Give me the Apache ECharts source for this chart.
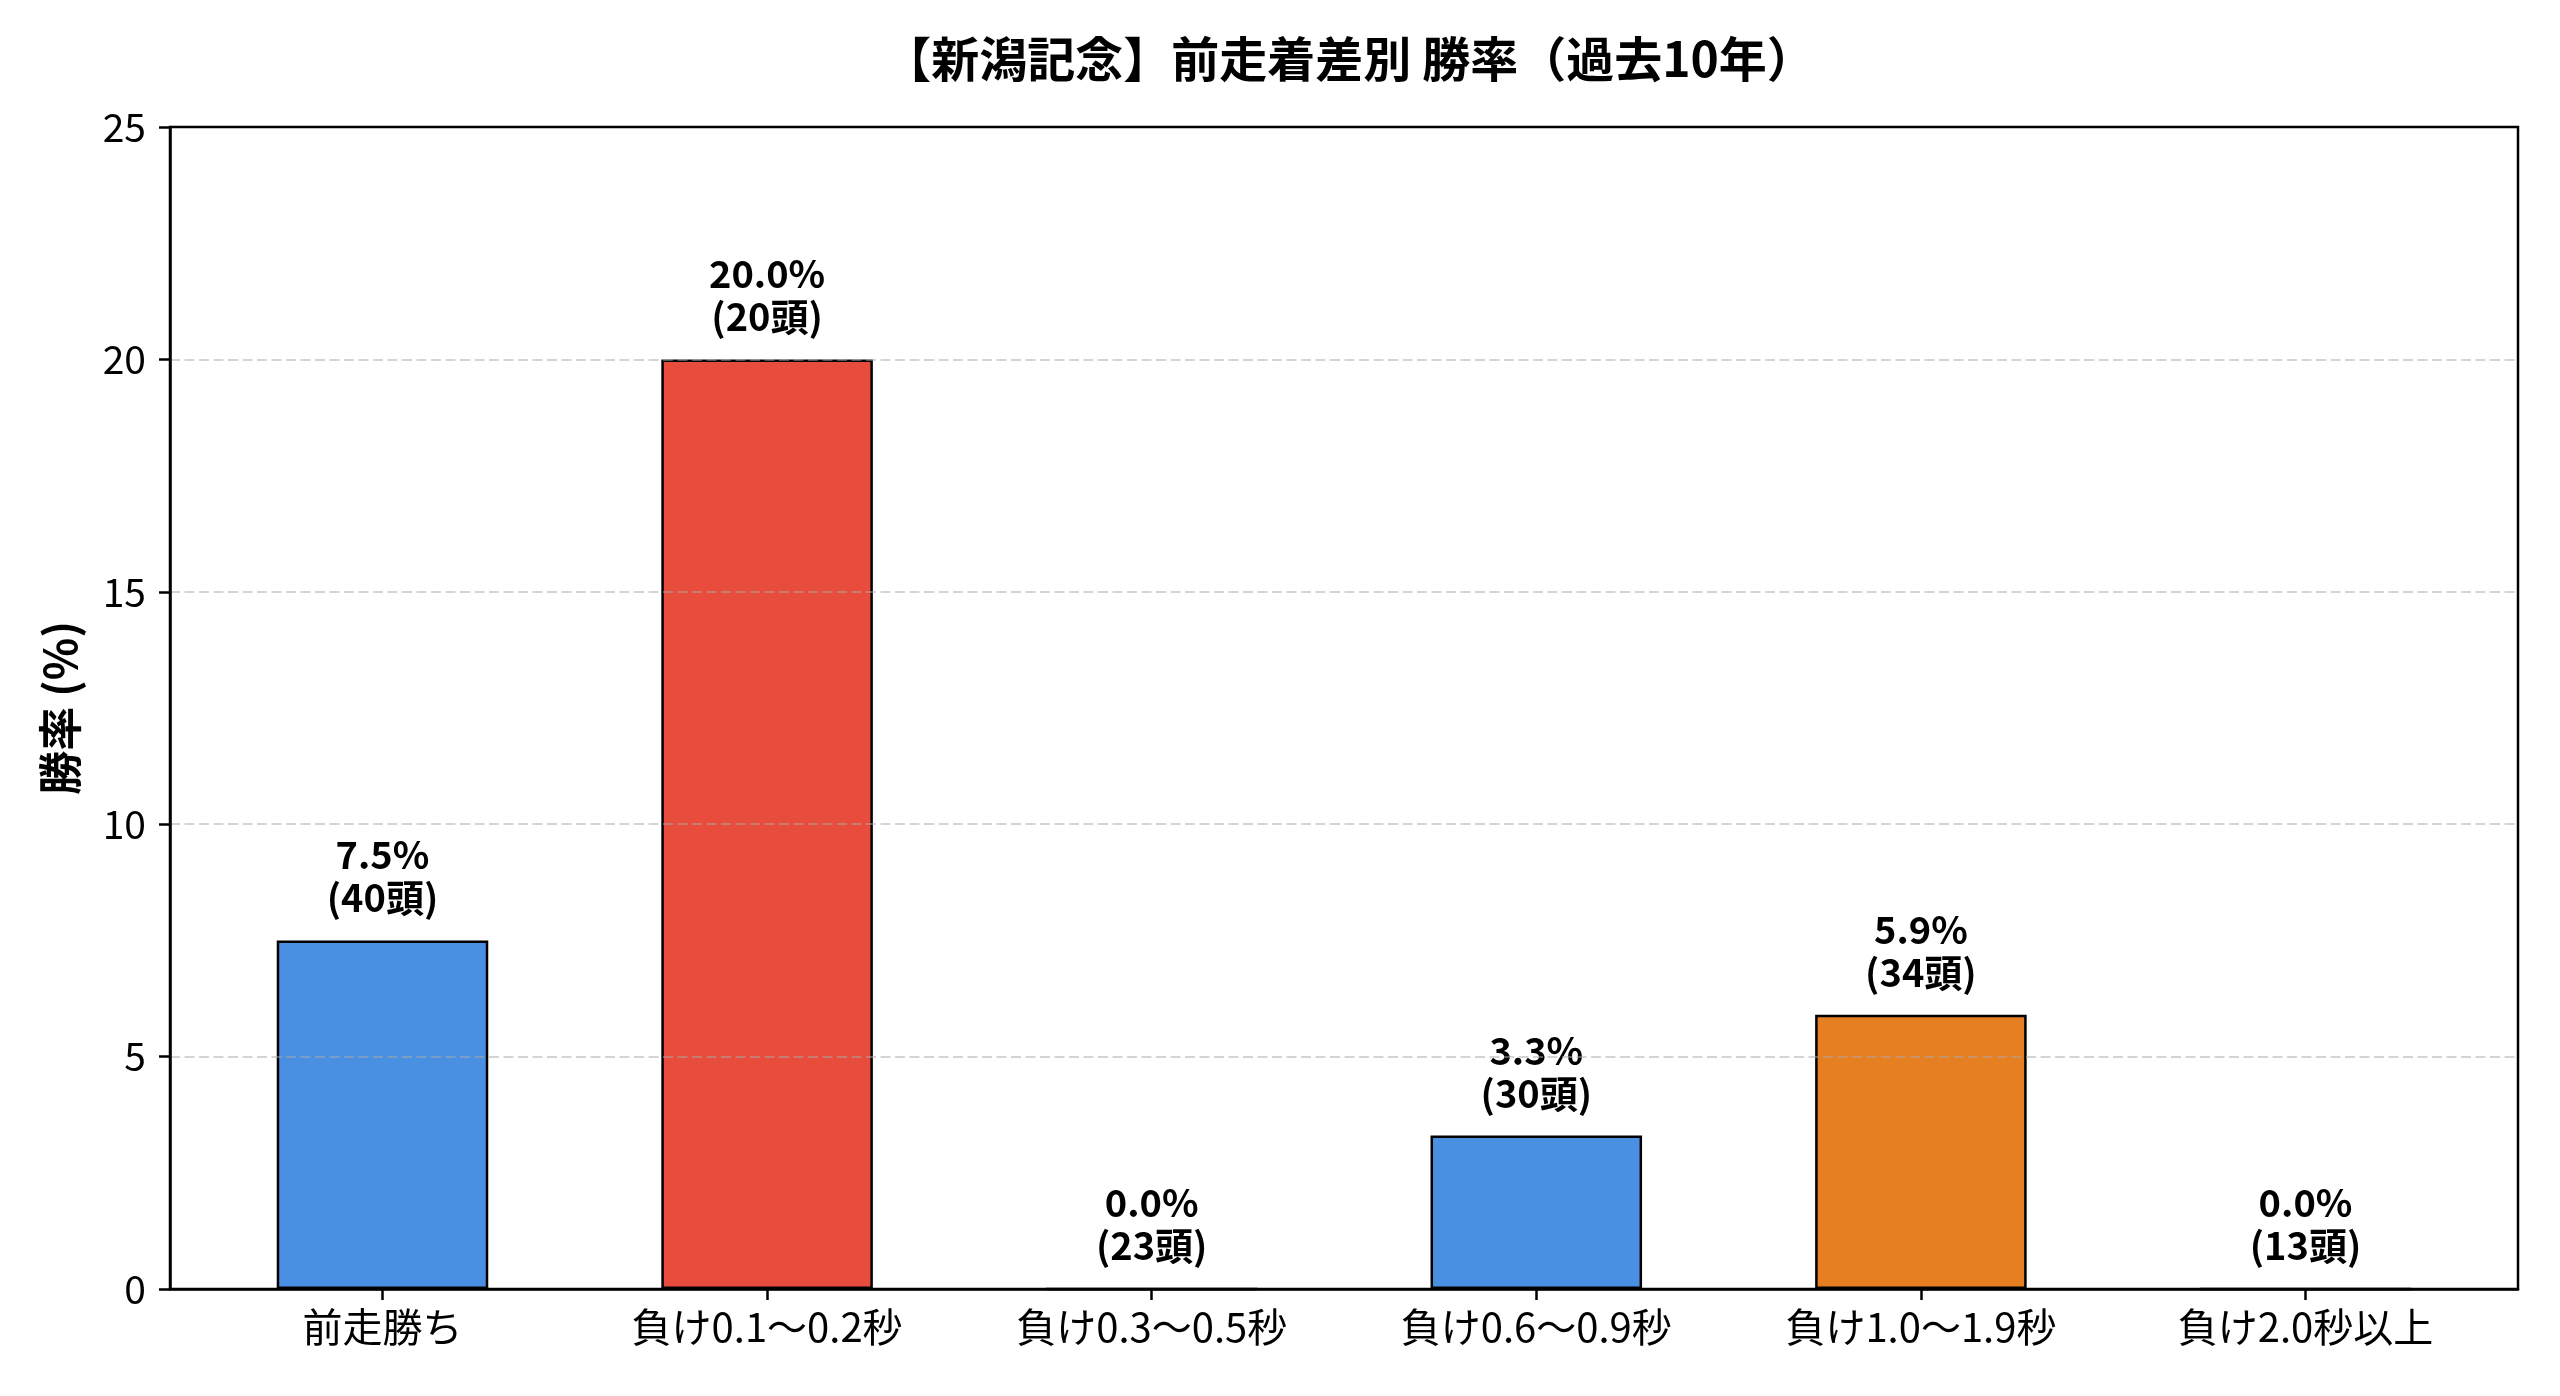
<!DOCTYPE html>
<html>
<head>
<meta charset="utf-8">
<script src="https://cdn.jsdelivr.net/npm/echarts@6/dist/echarts.min.js"></script>
<style>
html,body{margin:0;padding:0;background:#fff;}
#main{width:2560px;height:1396px;}
</style>
</head>
<body>
<div id="main"></div>
<script>
const categories = ['前走勝ち', '負け0.1～0.2秒', '負け0.3～0.5秒', '負け0.6～0.9秒', '負け1.0～1.9秒', '負け2.0秒以上'];
const winRates = [7.5, 20.0, 0.0, 3.3, 5.9, 0.0];
const horseCounts = [40, 20, 23, 30, 34, 13];
const barColors = ['#4A90E2', '#E74C3C', '#4A90E2', '#4A90E2', '#E67E22', '#4A90E2'];
const yTicks = [0, 5, 10, 15, 20, 25];

const FONT = '"Noto Sans CJK JP", "Noto Sans", sans-serif';
const chart = echarts.init(document.getElementById('main'), null, {renderer: 'canvas'});

const gridLeft = 170, gridRight = 42, gridTop = 127, gridBottom = 107;
const xMin = -0.5525, xMax = 5.5525;
const plotW = 2560 - gridLeft - gridRight;
const barW = plotW / (xMax - xMin) * 0.55;

const option = {
  backgroundColor: '#ffffff',
  animation: false,
  title: {
    text: '【新潟記念】前走着差別 勝率（過去10年）',
    left: gridLeft + plotW / 2,
    textAlign: 'center',
    top: 30,
    textStyle: {fontFamily: FONT, fontSize: 48, fontWeight: 'bold', color: '#000'}
  },
  grid: {
    left: gridLeft, right: gridRight, top: gridTop, bottom: gridBottom,
    show: true, borderColor: '#000', borderWidth: 2.5, backgroundColor: 'transparent'
  },
  xAxis: {
    type: 'value',
    min: xMin, max: xMax,
    z: 3,
    axisLine: {show: true, onZero: false, lineStyle: {color: '#000', width: 2.5}},
    axisTick: {show: true, length: 11, lineStyle: {color: '#000', width: 2.5}, customValues: categories.map((c, i) => i)},
    axisLabel: {
      show: true, customValues: categories.map((c, i) => i),
      formatter: v => categories[Math.round(v)],
      fontFamily: FONT, fontSize: 40, color: '#000', margin: 18
    },
    splitLine: {show: false}
  },
  yAxis: {
    type: 'value',
    min: 0, max: 25, interval: 5,
    z: 3,
    name: '勝率 (%)',
    nameLocation: 'middle',
    nameGap: 88,
    nameTextStyle: {fontFamily: FONT, fontSize: 44, fontWeight: 'bold', color: '#000'},
    axisLine: {show: true, onZero: false, lineStyle: {color: '#000', width: 2.5}},
    axisTick: {show: true, length: 11, lineStyle: {color: '#000', width: 2.5}},
    axisLabel: {
      customValues: yTicks,
      fontFamily: FONT, fontSize: 39, color: '#000', margin: 24
    },
    splitLine: {show: true, showMinLine: false, showMaxLine: false, lineStyle: {color: 'rgba(170,170,170,0.5)', width: 2, type: [10, 4.5]}}
  },
  series: [{
    type: 'bar',
    barWidth: barW,
    z: 2,
    data: winRates.map((v, i) => ({
      value: [i, v],
      itemStyle: {color: barColors[i], borderColor: '#000', borderWidth: 2.5}
    })),
    label: {
      show: true,
      position: 'top',
      distance: 21,
      formatter: p => winRates[p.dataIndex].toFixed(1) + '%\n(' + horseCounts[p.dataIndex] + '頭)',
      fontFamily: FONT, fontSize: 38, fontWeight: 'bold', color: '#000', lineHeight: 43
    }
  }]
};
chart.setOption(option);
</script>
</body>
</html>
